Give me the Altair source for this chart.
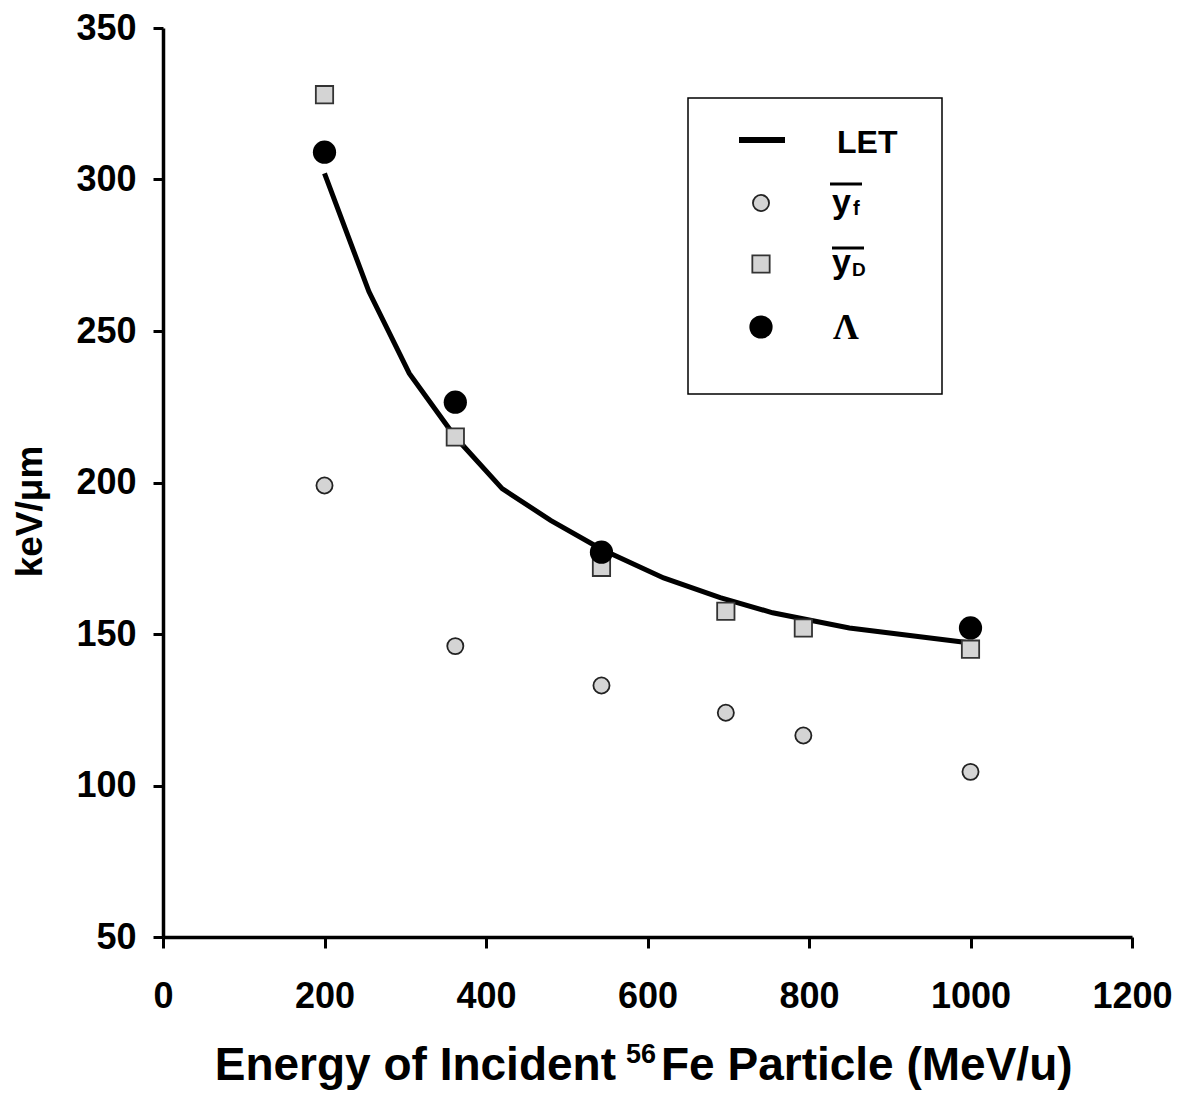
import altair as alt
import pandas as pd

# ---- data ----
let_x = [200, 255, 305, 362, 420, 480, 543, 620, 690, 755, 850, 1000]
let_y = [302, 263, 236, 215, 198, 187.5, 178, 168.5, 162, 157, 152, 147]

yf_x = [200, 362, 543, 697, 793, 1000]
yf_y = [199, 146, 133, 124, 116.5, 104.5]

yd_x = [200, 362, 543, 697, 793, 1000]
yd_y = [328, 215, 172, 157.5, 152, 145]

lam_x = [200, 362, 543, 1000]
lam_y = [309, 226.5, 177, 152]

x_ticks = [0, 200, 400, 600, 800, 1000, 1200]
y_ticks = [50, 100, 150, 200, 250, 300, 350]

FONT = "Liberation Sans"
W, H = 969, 909

let_df = pd.DataFrame({"x": let_x, "y": let_y})
yf_df = pd.DataFrame({"x": yf_x, "y": yf_y})
yd_df = pd.DataFrame({"x": yd_x, "y": yd_y})
lam_df = pd.DataFrame({"x": lam_x, "y": lam_y})

xscale = alt.Scale(domain=[0, 1200], nice=False, zero=False)
yscale = alt.Scale(domain=[50, 350], nice=False, zero=False)

xaxis = alt.Axis(
    values=x_ticks, format="d", grid=False, domainColor="black", domainWidth=3.5,
    tickColor="black", tickWidth=3, tickSize=11, labelFlush=False,
    labelFont=FONT, labelFontWeight="bold", labelFontSize=36, labelColor="black",
    labelPadding=31, title="",
)
yaxis = alt.Axis(
    values=y_ticks, format="d", grid=False, domainColor="black", domainWidth=3.5,
    tickColor="black", tickWidth=3, tickSize=10, labelFlush=False,
    labelFont=FONT, labelFontWeight="bold", labelFontSize=36, labelColor="black",
    labelPadding=17, title="keV/\u03bcm",
    titleFont=FONT, titleFontWeight="bold", titleFontSize=37, titleColor="black",
    titleX=-133, titleY=483, titleAngle=270, titleAlign="center", titleBaseline="middle",
)

X = alt.X("x:Q", scale=xscale, axis=xaxis)
Y = alt.Y("y:Q", scale=yscale, axis=yaxis)
Xn = alt.X("x:Q", scale=xscale)
Yn = alt.Y("y:Q", scale=yscale)

line = alt.Chart(let_df).mark_line(color="black", strokeWidth=5).encode(x=X, y=Y)
yf = alt.Chart(yf_df).mark_point(shape="circle", filled=True, fill="#d4d4d4",
                                 stroke="#222222", strokeWidth=1.8, size=260, opacity=1).encode(x=Xn, y=Yn)
yd = alt.Chart(yd_df).mark_point(shape="square", filled=True, fill="#d4d4d4",
                                 stroke="#333333", strokeWidth=1.8, size=300, opacity=1).encode(x=Xn, y=Yn)
lam = alt.Chart(lam_df).mark_circle(color="black", size=540, opacity=1).encode(x=Xn, y=Yn)

# ---- legend and x title (drawn by hand, positions in plot-area pixels) ----
one = alt.Data(values=[{"k": 0}])
OX, OY = 163, 28

def px(v):
    return alt.value(v - OX)

def py(v):
    return alt.value(v - OY)

box = alt.Chart(one).mark_rect(fill="white", stroke="black", strokeWidth=1.5).encode(
    x=px(688), x2=px(942), y=py(98), y2=py(394))
leg_line = alt.Chart(one).mark_rule(color="black", strokeWidth=6).encode(
    x=px(739), x2=px(785), y=py(140))
leg_yf = alt.Chart(one).mark_point(shape="circle", filled=True, fill="#d4d4d4",
                                   stroke="#222222", strokeWidth=1.8, size=260, opacity=1).encode(
    x=px(761), y=py(203))
leg_yd = alt.Chart(one).mark_point(shape="square", filled=True, fill="#d4d4d4",
                                   stroke="#333333", strokeWidth=1.8, size=300, opacity=1).encode(
    x=px(761), y=py(264))
leg_lam = alt.Chart(one).mark_circle(color="black", size=540, opacity=1).encode(
    x=px(761), y=py(327))

def txt(s, x, y, size, font=FONT, weight="bold", align="left"):
    return alt.Chart(one).mark_text(text=s, font=font, fontSize=size, fontWeight=weight,
                                    color="black", align=align, baseline="alphabetic").encode(
        x=px(x), y=py(y))

t_let = txt("LET", 837, 153, 32)
t_yf = txt("y", 832, 213, 34)
t_yf_sub = txt("f", 853, 215, 20)
t_yd = txt("y", 832, 273, 34)
t_yd_sub = txt("D", 852, 276, 19)
t_lam = txt("\u039b", 833, 339, 36, font="Liberation Serif")
ov1 = alt.Chart(one).mark_rule(color="black", strokeWidth=3).encode(x=px(830), x2=px(862), y=py(184))
ov2 = alt.Chart(one).mark_rule(color="black", strokeWidth=3).encode(x=px(832), x2=px(864), y=py(248))

xt1 = txt("Energy of Incident", 616, 1080, 46, align="right")
xt2 = txt("56", 626, 1063, 27)
xt3 = txt("Fe Particle (MeV/u)", 661, 1080, 46)

chart = alt.layer(
    line, yf, yd, lam,
    box, leg_line, leg_yf, leg_yd, leg_lam,
    t_let, t_yf, t_yf_sub, t_yd, t_yd_sub, t_lam, ov1, ov2,
    xt1, xt2, xt3,
).properties(
    width=W, height=H,
    autosize=alt.AutoSizeParams(type="none"),
    padding={"left": OX, "top": OY, "right": 1180 - OX - W, "bottom": 1101 - OY - H},
    background="white",
).configure_view(stroke=None)

chart.save("out.html", embed_options={"renderer": "svg", "actions": False})
